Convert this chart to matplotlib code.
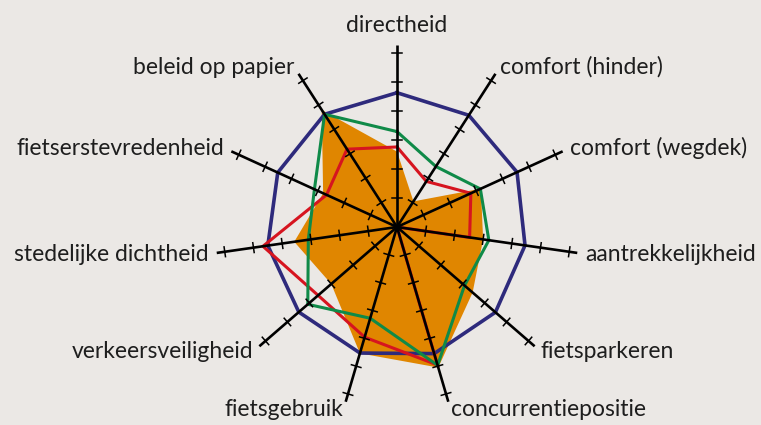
import numpy as np
import matplotlib.pyplot as plt

plt.rcParams['font.family'] = ['Lato', 'DejaVu Sans']

labels = ['directheid', 'comfort (hinder)', 'comfort (wegdek)', 'aantrekkelijkheid',
          'fietsparkeren', 'concurrentiepositie', 'fietsgebruik', 'verkeersveiligheid',
          'stedelijke dichtheid', 'fietserstevredenheid', 'beleid op papier']

# values in tick units (axis ticks at 1..6)
oranje = [2.6, 1.05, 3.18, 3.0, 3.45, 5.05, 4.54, 3.0, 3.58, 2.8, 4.8]
rood = [2.76, 1.87, 2.8, 2.53, 0.0, 4.96, 3.96, 3.6, 4.67, 2.67, 3.19]
groen = [3.29, 2.48, 3.16, 3.2, 3.08, 4.97, 3.28, 4.07, 3.09, 3.13, 4.62]
blauw = [4.63, 4.58, 4.55, 4.46, 4.49, 4.55, 4.53, 4.48, 4.5, 4.52, 4.62]

bg = '#ebe8e5'
n = len(labels)
ang = np.pi / 2 - np.arange(n) * 2 * np.pi / n


def xy(vals):
    v = np.array(vals + vals[:1])
    a = np.append(ang, ang[0])
    return v * np.cos(a), v * np.sin(a)


fig = plt.figure(figsize=(7.61, 4.25), dpi=100, facecolor=bg)
ax = fig.add_axes([0, 0, 1, 1])
ax.set_facecolor(bg)
u = 29.0  # pixels per unit
ax.set_xlim(-397 / u, (761 - 397) / u)
ax.set_ylim(-(425 - 227) / u, 227 / u)
ax.axis('off')

x, y = xy(oranje)
ax.fill(x, y, color='#e08600', lw=0, zorder=1)
x, y = xy(blauw)
ax.plot(x, y, color='#2e2a7c', lw=2.6, zorder=2, solid_joinstyle='miter')
x, y = xy(rood)
ax.plot(x, y, color='#d6141f', lw=2.2, zorder=3, solid_joinstyle='miter')
x, y = xy(groen)
ax.plot(x, y, color='#0f8a48', lw=2.2, zorder=4, solid_joinstyle='miter')

# axes with tick marks
for a in ang:
    c, s = np.cos(a), np.sin(a)
    ax.plot([0, 6.28 * c], [0, 6.28 * s], color='black', lw=1.9, zorder=5,
            solid_capstyle='butt')
    for t in range(1, 7):
        px, py = -s * 0.17, c * 0.17
        ax.plot([t * c - px, t * c + px], [t * s - py, t * s + py],
                color='black', lw=1.1, zorder=5)

for lab, a in zip(labels, ang):
    c, s = np.cos(a), np.sin(a)
    if abs(c) < 0.01:
        ax.text(0, 6.73, lab, ha='center', va='baseline', fontsize=16.5, color='#1e1e1e')
        continue
    r = 6.55
    ha = 'left' if c > 0 else 'right'
    ax.text(r * c, r * s, lab, ha=ha, va='center', fontsize=16.5, color='#1e1e1e')

fig.savefig('out.png', dpi=100, facecolor=bg)
